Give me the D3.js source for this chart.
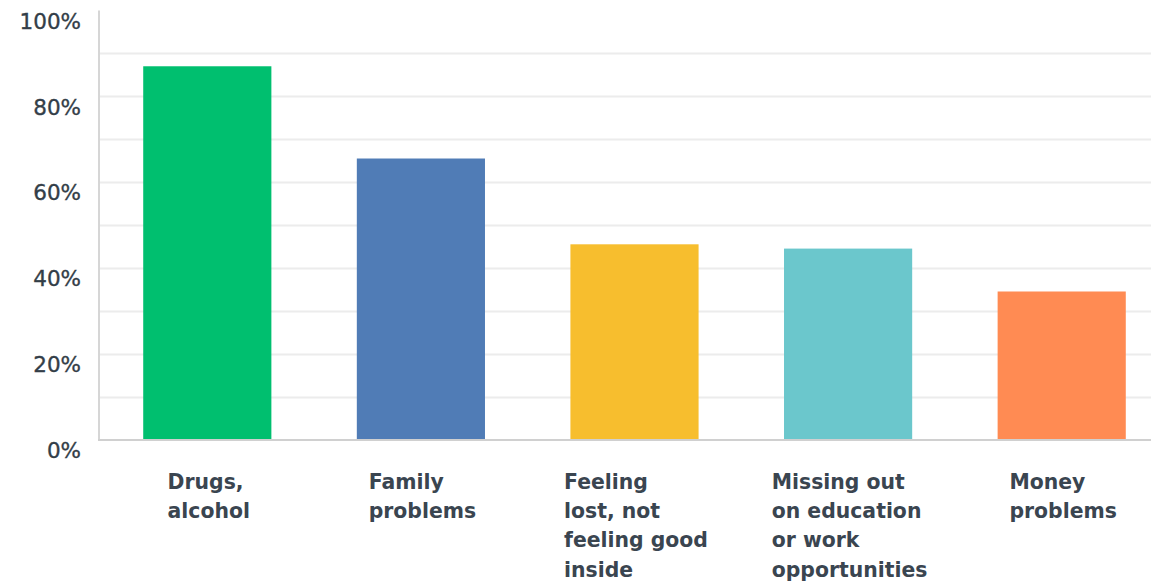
<!DOCTYPE html>
<html><head><meta charset="utf-8">
<script src="https://cdn.jsdelivr.net/npm/d3@7"></script>
<style>html,body{margin:0;padding:0;background:#fff;}svg{display:block;}</style>
</head><body>
<svg id="chart" width="1151" height="582"></svg>
<script>
const categories = [
  ["Drugs,", "alcohol"],
  ["Family", "problems"],
  ["Feeling", "lost, not", "feeling good", "inside"],
  ["Missing out", "on education", "or work", "opportunities"],
  ["Money", "problems"]
];
const values = [87, 65.5, 45.5, 44.5, 34.5];
const colors = ["#00bf6f", "#507cb6", "#f7be2e", "#6bc7cc", "#ff8b53"];
const tickLabels = [0, 20, 40, 60, 80, 100];
const gridValues = [10, 20, 30, 40, 50, 60, 70, 80, 90];

(function() {
const svg = d3.select("#chart");
const pLeft = 100, pRight = 1168, pTop = 10.5, pBottom = 439.5;
const x = d3.scaleBand().domain(d3.range(values.length)).range([pLeft, pRight]).paddingInner(0.4).paddingOuter(0.2);
const y = d3.scaleLinear().domain([0, 100]).range([pBottom, pTop]);

// gridlines
svg.append("g").selectAll("line").data(gridValues).join("line")
  .attr("x1", pLeft).attr("x2", 1151)
  .attr("y1", d => Math.round(y(d)) + 0.5).attr("y2", d => Math.round(y(d)) + 0.5)
  .attr("stroke", "#ececec").attr("stroke-width", 2);

// bars
svg.append("g").selectAll("rect").data(values).join("rect")
  .attr("x", (d, i) => x(i) + 0.5).attr("width", x.bandwidth())
  .attr("y", d => y(d)).attr("height", d => pBottom - y(d))
  .attr("fill", (d, i) => colors[i]);

// y axis line
svg.append("line").attr("x1", 99).attr("x2", 99).attr("y1", pTop).attr("y2", pBottom + 1)
  .attr("stroke", "#d6d6d6").attr("stroke-width", 2);
// baseline
svg.append("line").attr("x1", 98).attr("x2", 1151).attr("y1", pBottom + 0.5).attr("y2", pBottom + 0.5)
  .attr("stroke", "#d0d0d0").attr("stroke-width", 2);

// y tick labels
const yAxis = d3.axisLeft(y).tickValues(tickLabels).tickFormat(d => d + "%").tickSize(0).tickPadding(0);
const ga = svg.append("g").attr("transform", "translate(81,11)").call(yAxis);
ga.select(".domain").remove();
ga.selectAll("text").attr("font-family", "'DejaVu Sans', sans-serif").attr("font-size", 21.5)
  .attr("font-weight", 400).attr("fill", "#333e48")
  .attr("stroke", "#333e48").attr("stroke-width", 0.35);

// category labels
const lab = svg.append("g");
categories.forEach((lines, i) => {
  const t = lab.append("text").attr("font-family", "'DejaVu Sans', sans-serif")
    .attr("font-size", 20.4).attr("font-weight", 700).attr("fill", "#3a4550");
  lines.forEach((s, j) => t.append("tspan").attr("y", 488.5 + j * 29.4).text(s));
  let maxW = 0;
  t.selectAll("tspan").each(function() { maxW = Math.max(maxW, this.getComputedTextLength()); });
  const cx = x(i) + x.bandwidth() / 2 + 2;
  t.selectAll("tspan").attr("x", cx - maxW / 2);
});
})();
</script>
</body></html>
